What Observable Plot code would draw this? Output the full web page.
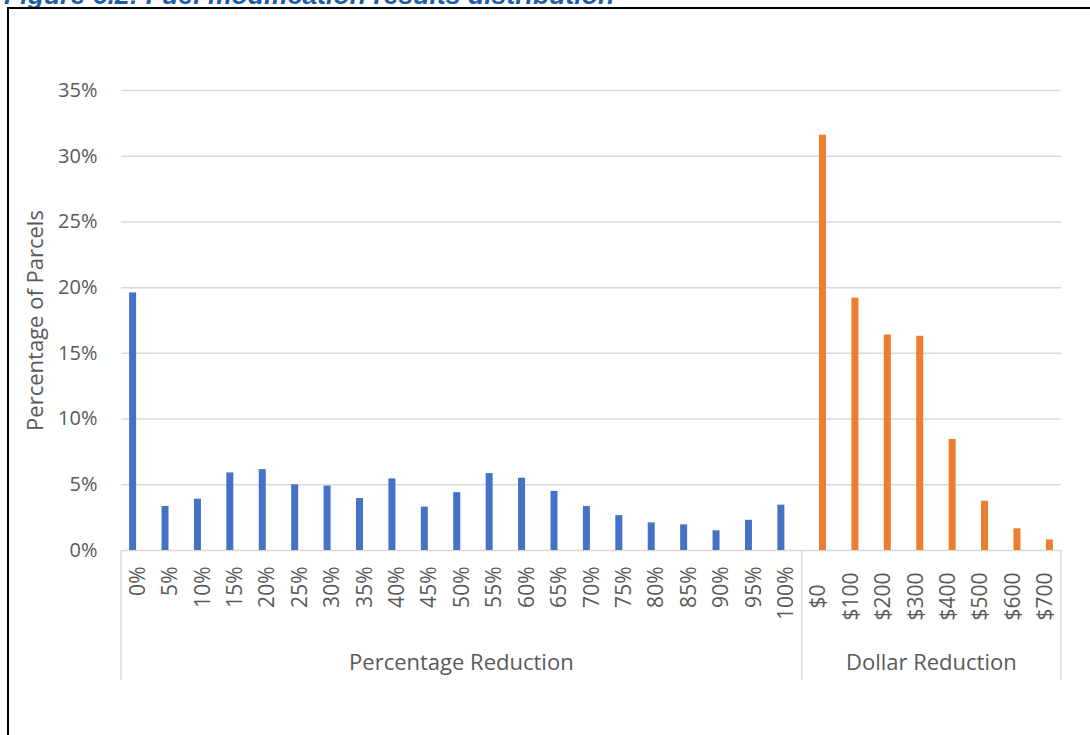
<!DOCTYPE html>
<html>
<head>
<meta charset="utf-8">
<script src="https://cdn.jsdelivr.net/npm/d3@7"></script>
<script src="https://cdn.jsdelivr.net/npm/@observablehq/plot@0.6"></script>
<style>
  html, body { margin: 0; padding: 0; background: #fff; overflow: hidden; }
  #wrap { position: relative; width: 1090px; height: 735px; overflow: hidden; }
  #title {
    position: absolute; left: 4px; top: -18px; white-space: nowrap;
    font: italic bold 26.6px/26px "Liberation Sans", Arial, sans-serif; color: #1f5ca8;
  }
  #frame {
    position: absolute; left: 7px; top: 7px; width: 1200px; height: 1000px;
    border: 2px solid #000; pointer-events: none;
  }
  #chart { position: absolute; left: 0; top: 0; }
</style>
</head>
<body>
<div id="wrap">
  <div id="title">Figure 6.2: Fuel modification results distribution</div>
  <div id="chart"></div>
  <div id="frame"></div>
</div>
<script>
// Share of parcels by size of fuel-modification reduction (percent of parcels)
const pctLabels = ["0%", "5%", "10%", "15%", "20%", "25%", "30%", "35%", "40%", "45%", "50%",
  "55%", "60%", "65%", "70%", "75%", "80%", "85%", "90%", "95%", "100%"];
const pctValues = [19.6, 3.35, 3.9, 5.9, 6.15, 5.0, 4.9, 3.95, 5.45, 3.3, 4.4,
  5.85, 5.5, 4.5, 3.35, 2.65, 2.1, 1.95, 1.5, 2.3, 3.45];
const dollarLabels = ["$0", "$100", "$200", "$300", "$400", "$500", "$600", "$700"];
const dollarValues = [31.6, 19.2, 16.4, 16.3, 8.45, 3.75, 1.65, 0.8];
const groupNames = ["Percentage Reduction", "Dollar Reduction"];
const yTicks = [0, 5, 10, 15, 20, 25, 30, 35];
const yTitle = "Percentage of Parcels";

const blue = "#4472c4", orange = "#ed7d31", grid = "#d9d9d9", ink = "#595959";

const pctRows = pctLabels.map((label, i) => ({label, value: pctValues[i], group: groupNames[0]}));
const dollarRows = dollarLabels.map((label, i) => ({label, value: dollarValues[i], group: groupNames[1]}));
const allLabels = [...pctLabels, ...dollarLabels];

const chart = Plot.plot({
  width: 1090,
  height: 735,
  marginLeft: 121,
  marginRight: 29,
  marginTop: 90,
  marginBottom: 185,
  style: {fontFamily: "'Open Sans', sans-serif", fontSize: "20px", color: ink, background: "transparent"},
  x: {domain: allLabels, paddingInner: 0.784, paddingOuter: 0.392, round: false, axis: null},
  y: {domain: [0, 35], axis: null, label: null},
  marks: [
    Plot.gridY(yTicks, {stroke: grid, strokeOpacity: 1, strokeWidth: 1.5}),
    Plot.axisY(yTicks, {tickSize: 0, tickPadding: 24, tickFormat: d => d + "%", fill: ink, label: null}),
    // two clustered series: percentage bars sit left of centre, dollar bars right
    Plot.barY(pctRows, {x: "label", y: "value", fill: blue, dx: -4.6}),
    Plot.barY(dollarRows, {x: "label", y: "value", fill: orange, dx: 4.6}),
    // vertical category labels, glyphs centred on each category
    Plot.text(pctRows, {x: "label", text: "label", frameAnchor: "bottom", dx: 7, dy: 16, rotate: -90, textAnchor: "end", fill: ink, fontSize: 21}),
    Plot.text(dollarRows, {x: "label", text: "label", frameAnchor: "bottom", dx: 7, dy: 46, rotate: -90, textAnchor: "middle", fill: ink, fontSize: 21}),
    Plot.text([yTitle], {frameAnchor: "left", dx: -86, rotate: -90, textAnchor: "middle", fill: ink, fontSize: 22})
  ]
});

document.getElementById("chart").appendChild(chart);

// Category-group row under the tick labels: boundary lines and group names
const xs = chart.scale("x");
const ys = chart.scale("y");
const step = xs.step, bw = xs.bandwidth;
const y0 = ys.apply(0);
const groups = [
  {name: groupNames[0], first: pctLabels[0], last: pctLabels[pctLabels.length - 1]},
  {name: groupNames[1], first: dollarLabels[0], last: dollarLabels[dollarLabels.length - 1]}
];
const spans = groups.map(g => ({
  name: g.name,
  x1: xs.apply(g.first) + bw / 2 - step / 2,
  x2: xs.apply(g.last) + bw / 2 + step / 2
}));
const svg = d3.select(chart);
const edges = [spans[0].x1, ...spans.map(s => s.x2)];
svg.append("g")
  .selectAll("line").data(edges).join("line")
  .attr("x1", d => d).attr("x2", d => d)
  .attr("y1", y0).attr("y2", y0 + 130)
  .attr("stroke", grid).attr("stroke-width", 1.5);
svg.append("g")
  .selectAll("text").data(spans).join("text")
  .attr("x", d => (d.x1 + d.x2) / 2)
  .attr("y", y0 + 113)
  .attr("dy", "0.32em")
  .attr("text-anchor", "middle")
  .attr("fill", ink)
  .attr("font-size", 22)
  .text(d => d.name);
</script>
</body>
</html>
